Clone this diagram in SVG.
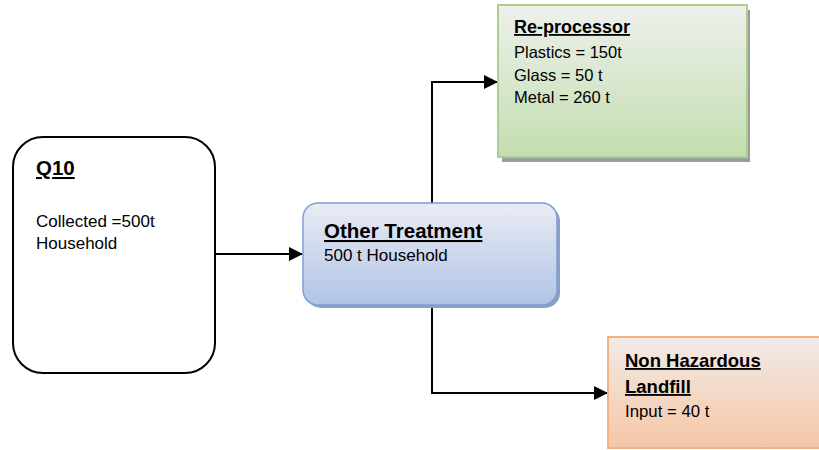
<svg xmlns="http://www.w3.org/2000/svg" width="819" height="450" viewBox="0 0 819 450">
<style>
  text { font-family: "Liberation Sans", Arial, sans-serif; fill: #000; }
  .t { font-weight: bold; text-decoration: underline; }
  .conn { fill: none; stroke: #000; stroke-width: 2; }
</style>
<defs>
  <linearGradient id="gGreen" x1="0" y1="0" x2="0" y2="1">
    <stop offset="0" stop-color="#eef0ec"/>
    <stop offset="1" stop-color="#c3deb0"/>
  </linearGradient>
  <linearGradient id="gBlue" x1="0" y1="0" x2="0" y2="1">
    <stop offset="0" stop-color="#e9ecf3"/>
    <stop offset="1" stop-color="#b1c4e6"/>
  </linearGradient>
  <linearGradient id="gOrange" x1="0" y1="0" x2="0" y2="1">
    <stop offset="0" stop-color="#f1ebe8"/>
    <stop offset="1" stop-color="#f6c6a6"/>
  </linearGradient>
  <marker id="arr" viewBox="0 0 14 14" refX="13" refY="7" markerWidth="14" markerHeight="14" markerUnits="userSpaceOnUse" orient="auto">
    <path d="M0,0 L14,7 L0,14 z" fill="#000"/>
  </marker>
</defs>

<g id="connectors">
  <path class="conn" d="M215,254 L302,254" marker-end="url(#arr)"/>
  <path class="conn" d="M432,203 L432,82 L497,82" marker-end="url(#arr)"/>
  <path class="conn" d="M432,306 L432,393 L607,393" marker-end="url(#arr)"/>
</g>

<g id="q10">
  <rect x="13" y="137" width="202" height="236" rx="30" ry="30" fill="#fff" stroke="#000" stroke-width="2"/>
  <text class="t" x="36" y="175" font-size="20.5">Q10</text>
  <text x="36" y="227" font-size="17">Collected =500t</text>
  <text x="36" y="249" font-size="17">Household</text>
</g>

<g id="other-treatment">
  <rect x="306" y="206" width="254" height="102" rx="15" ry="15" fill="#8d9fc2"/>
  <rect x="303" y="203" width="254" height="102" rx="15" ry="15" fill="url(#gBlue)" stroke="#7f9fd6" stroke-width="1.5"/>
  <text class="t" x="324" y="238" font-size="20.5">Other Treatment</text>
  <text x="324" y="261" font-size="17">500 t Household</text>
</g>

<g id="re-processor">
  <rect x="502" y="10" width="248" height="152" fill="#9c9c9c"/>
  <rect x="498" y="5" width="249" height="152" fill="url(#gGreen)" stroke="#a9d08e" stroke-width="2"/>
  <text class="t" x="514" y="33" font-size="18">Re-processor</text>
  <text x="514" y="58" font-size="16.5">Plastics = 150t</text>
  <text x="514" y="81" font-size="16.5">Glass = 50 t</text>
  <text x="514" y="103" font-size="16.5">Metal = 260 t</text>
</g>

<g id="landfill">
  <rect x="608" y="337" width="215" height="111" fill="url(#gOrange)" stroke="#f4b183" stroke-width="2"/>
  <text class="t" x="625" y="367" font-size="18.5">Non Hazardous</text>
  <text class="t" x="625" y="393" font-size="18.5">Landfill</text>
  <text x="625" y="417" font-size="16.8">Input = 40 t</text>
</g>
</svg>
